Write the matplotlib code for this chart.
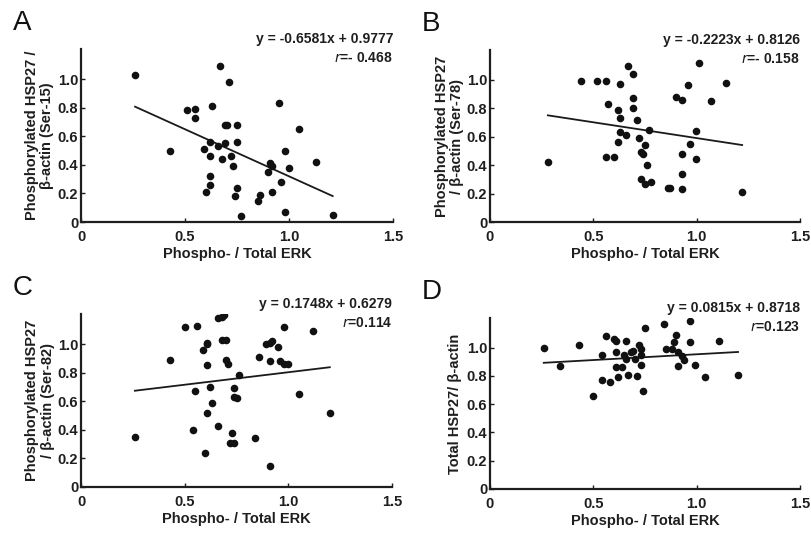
import matplotlib
matplotlib.use("Agg")
import matplotlib.pyplot as plt
import numpy as np

plt.rcParams['font.family'] = ['Liberation Sans', 'DejaVu Sans']

# ---------------- data ----------------
xA = [0.26, 0.43, 0.51, 0.55, 0.55, 0.63, 0.59, 0.62, 0.62, 0.62, 0.62, 0.60, 0.67, 0.66,
      0.69, 0.69, 0.70, 0.71, 0.68, 0.72, 0.73, 0.75, 0.75, 0.75, 0.74, 0.77, 0.85, 0.86,
      0.90, 0.91, 0.92, 0.95, 0.96, 0.92, 0.98, 0.98, 1.00, 1.05, 1.13, 1.21]
yA = [1.03, 0.50, 0.78, 0.79, 0.73, 0.81, 0.51, 0.56, 0.46, 0.32, 0.26, 0.21, 1.09, 0.53,
      0.55, 0.68, 0.68, 0.98, 0.44, 0.46, 0.39, 0.68, 0.56, 0.24, 0.18, 0.04, 0.15, 0.19,
      0.35, 0.41, 0.39, 0.83, 0.28, 0.21, 0.50, 0.07, 0.38, 0.65, 0.42, 0.05]

xB = [0.28, 0.44, 0.52, 0.56, 0.57, 0.56, 0.60, 0.63, 0.62, 0.63, 0.63, 0.62, 0.66, 0.67,
      0.69, 0.69, 0.69, 0.71, 0.72, 0.73, 0.74, 0.75, 0.76, 0.77, 0.73, 0.75, 0.78, 0.86,
      0.87, 0.90, 0.93, 0.93, 0.93, 0.93, 0.96, 0.97, 0.995, 0.995, 1.01, 1.07, 1.14, 1.22]
yB = [0.42, 0.995, 0.995, 0.995, 0.83, 0.46, 0.46, 0.97, 0.79, 0.73, 0.63, 0.56, 0.61, 1.10,
      1.04, 0.87, 0.80, 0.72, 0.59, 0.49, 0.48, 0.54, 0.40, 0.65, 0.30, 0.27, 0.28, 0.24,
      0.24, 0.88, 0.86, 0.48, 0.34, 0.23, 0.965, 0.55, 0.64, 0.44, 1.12, 0.85, 0.98, 0.21]

xC = [0.26, 0.43, 0.50, 0.56, 0.55, 0.54, 0.59, 0.61, 0.61, 0.61, 0.62, 0.63, 0.61, 0.60,
      0.66, 0.66, 0.68, 0.69, 0.68, 0.70, 0.70, 0.71, 0.73, 0.72, 0.74, 0.74, 0.74, 0.75,
      0.76, 0.84, 0.86, 0.89, 0.91, 0.92, 0.91, 0.91, 0.95, 0.96, 0.98, 0.98, 1.00, 1.05,
      1.12, 1.20]
yC = [0.35, 0.89, 1.12, 1.125, 0.67, 0.40, 0.96, 1.00, 1.01, 0.85, 0.70, 0.59, 0.52, 0.235,
      0.43, 1.18, 1.19, 1.20, 1.03, 1.03, 0.89, 0.86, 0.38, 0.31, 0.31, 0.69, 0.63, 0.62,
      0.78, 0.34, 0.91, 1.00, 1.01, 1.02, 0.88, 0.15, 0.98, 0.88, 1.12, 0.86, 0.86, 0.65,
      1.09, 0.52]

xD = [0.26, 0.34, 0.43, 0.50, 0.54, 0.54, 0.56, 0.58, 0.60, 0.61, 0.61, 0.61, 0.62, 0.64,
      0.66, 0.65, 0.66, 0.68, 0.69, 0.67, 0.71, 0.72, 0.73, 0.73, 0.73, 0.74, 0.75, 0.70,
      0.84, 0.85, 0.88, 0.89, 0.90, 0.91, 0.93, 0.94, 0.91, 0.97, 0.97, 0.99, 1.04, 1.11,
      1.20]
yD = [1.00, 0.87, 1.02, 0.66, 0.95, 0.77, 1.08, 0.76, 1.06, 1.05, 0.97, 0.86, 0.79, 0.86,
      1.05, 0.95, 0.92, 0.97, 0.98, 0.81, 0.80, 1.02, 0.95, 0.99, 0.88, 0.69, 1.14, 0.92,
      1.17, 0.99, 0.99, 1.04, 1.09, 0.97, 0.94, 0.91, 0.87, 1.19, 1.04, 0.88, 0.79, 1.05,
      0.81]

slopes = [-0.6581, -0.2223, 0.1748, 0.0815]
intercepts = [0.9777, 0.8126, 0.6279, 0.8718]
equations = ["y = -0.6581x + 0.9777", "y = -0.2223x + 0.8126",
             "y = 0.1748x + 0.6279", "y = 0.0815x + 0.8718"]
r_values = ["=- 0.468", "=- 0.158", "=0.114", "=0.123"]
letters = ["A", "B", "C", "D"]
ylabels = ["Phosphorylated HSP27 /\n\u03b2-actin (Ser-15)",
           "Phosphorylated HSP27\n/ \u03b2-actin (Ser-78)",
           "Phosphorylated HSP27\n/ \u03b2-actin (Ser-82)",
           "Total HSP27/ \u03b2-actin"]
xlabel = "Phospho- / Total ERK"
xticks = [0, 0.5, 1.0, 1.5]
xticklabels = ["0", "0.5", "1.0", "1.5"]
yticks = [0, 0.2, 0.4, 0.6, 0.8, 1.0]
yticklabels = ["0", "0.2", "0.4", "0.6", "0.8", "1.0"]

xs = [xA, xB, xC, xD]
ys = [yA, yB, yC, yD]

# ---------------- layout ----------------
W, H = 811, 537
fig = plt.figure(figsize=(W / 100, H / 100), dpi=100)

# (left, right, top, bottom) in pixels
boxes = [(81, 393, 49, 222), (490, 800, 50, 222), (81, 392, 314, 487), (490, 800, 318, 489)]

TXT = '#1e1e1e'
for i in range(4):
    l, r, t, b = boxes[i]
    ax = fig.add_axes([l / W, 1 - b / H, (r - l) / W, (b - t) / H])
    ax.set_xlim(0, 1.5)
    ax.set_ylim(0, 1.21)
    for s in ['top', 'right']:
        ax.spines[s].set_visible(False)
    for s in ['left', 'bottom']:
        ax.spines[s].set_linewidth(1.6)
        ax.spines[s].set_color(TXT)
    ax.set_xticks(xticks)
    ax.set_xticklabels(xticklabels)
    ax.set_yticks(yticks)
    ax.set_yticklabels(yticklabels)
    ax.tick_params(direction='in', length=3, width=1, colors=TXT, labelsize=10.5)
    ax.tick_params(axis='x', pad=6)
    ax.tick_params(axis='y', pad=2)
    for lab in ax.get_xticklabels() + ax.get_yticklabels():
        lab.set_fontweight('bold')
        lab.set_color(TXT)

    x = np.array(xs[i])
    y = np.array(ys[i])
    ax.scatter(x, y, s=30, color='#111111', zorder=3, linewidths=0)
    xl = np.array([x.min(), x.max()])
    ax.plot(xl, slopes[i] * xl + intercepts[i], color='#1a1a1a', lw=1.3, zorder=2)

    ax.set_xlabel(xlabel, fontsize=10.5, fontweight='bold', color=TXT, labelpad=2)
    ax.set_ylabel(ylabels[i], fontsize=10.5, fontweight='bold', color=TXT,
                  linespacing=1.1)
    ax.yaxis.set_label_coords(-0.085 if i != 3 else -0.09, 0.5)

    ax.text(1.0, 1.06, equations[i], transform=ax.transAxes, ha='right', va='center',
            fontsize=10, fontweight='bold', color=TXT)
    ax.text(1.0, 0.95, r"$\it{r}$" + r_values[i], transform=ax.transAxes, ha='right',
            va='center', fontsize=10, fontweight='bold', color=TXT)

    ax.text((l - 68) / W, 1 - (t - 26) / H, letters[i], transform=fig.transFigure,
            fontsize=20, ha='left', va='center', color='#111111')

fig.savefig("out.png", dpi=100)
